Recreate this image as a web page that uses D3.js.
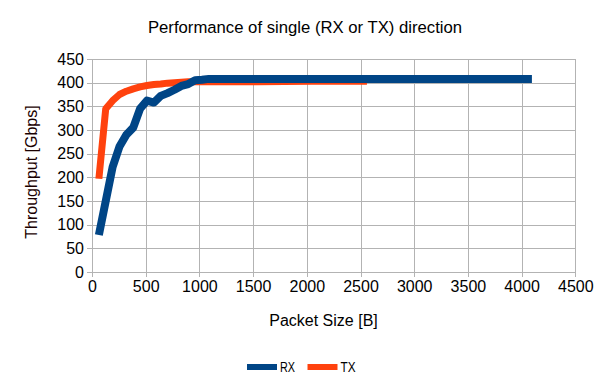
<!DOCTYPE html>
<html>
<head>
<meta charset="utf-8">
<script src="https://cdn.jsdelivr.net/npm/d3@7"></script>
<style>
  body { margin: 0; background: #fff; }
  svg { display: block; font-family: "Liberation Sans", Arial, sans-serif; }
</style>
</head>
<body>
<svg id="chart"></svg>
<script>
// packet sizes [B] and throughput [Gbps]
const rxSize = [64, 128, 192, 256, 320, 384, 448, 512, 576, 640, 704, 768, 832, 896, 960, 1024, 1088, 1536, 2048, 2560, 3072, 3584, 4096];
const rxGbps = [78, 150, 222, 265, 290, 305, 345, 362, 358, 372, 378, 385, 393, 397, 405, 406, 408, 408, 408, 408, 408, 408, 408];
const txSize = [64, 128, 192, 256, 320, 384, 448, 512, 576, 640, 704, 768, 832, 896, 960, 1024, 1088, 1536, 2048, 2560];
const txGbps = [197, 345, 362, 375, 382, 387, 391, 394, 396, 397, 399, 400, 401, 402, 402, 402, 402, 402, 403, 403];
const xTicks = d3.range(0, 4501, 500);
const yTicks = d3.range(0, 451, 50);

const width = 605;
const height = 378;
const margin = ({top: 59, right: 30, bottom: 106, left: 92});

const series = [
    {name: "RX", color: "#004586", width: 8, data: rxSize.map((s, i) => [s, rxGbps[i]])},
    {name: "TX", color: "#ff420e", width: 7, data: txSize.map((s, i) => [s, txGbps[i]])}
];

const x = d3.scaleLinear()
    .domain([0, 4500])
    .range([margin.left, width - margin.right + 0.3]);
const y = d3.scaleLinear()
    .domain([0, 450])
    .range([height - margin.bottom, margin.top]);

const svg = d3.select("#chart")
    .attr("width", width)
    .attr("height", height)
    .attr("viewBox", [0, 0, width, height]);

// grid
const grid = g => g
    .attr("stroke", "#b3b3b3")
    .attr("stroke-width", 1)
    .call(g => g.append("g")
        .selectAll("line")
        .data(xTicks)
        .join("line")
        .attr("x1", d => Math.round(x(d)) + 0.5)
        .attr("x2", d => Math.round(x(d)) + 0.5)
        .attr("y1", y(450))
        .attr("y2", y(0) + 5))
    .call(g => g.append("g")
        .selectAll("line")
        .data(yTicks)
        .join("line")
        .attr("y1", d => Math.round(y(d)) + 0.5)
        .attr("y2", d => Math.round(y(d)) + 0.5)
        .attr("x1", x(0) - 5)
        .attr("x2", x(4500)));

svg.append("g").call(grid);

const xAxis = g => g
    .attr("transform", `translate(0,${y(0)})`)
    .call(d3.axisBottom(x).tickValues(xTicks).tickFormat(d3.format("d")).tickSize(0).tickPadding(9))
    .call(g => g.select(".domain").remove())
    .call(g => g.selectAll("text").attr("font-size", 16).attr("fill", "#000").attr("font-family", null));

const yAxis = g => g
    .attr("transform", `translate(${x(0)},0)`)
    .call(d3.axisLeft(y).tickValues(yTicks).tickFormat(d3.format("d")).tickSize(0).tickPadding(8))
    .call(g => g.select(".domain").remove())
    .call(g => g.selectAll("text").attr("font-size", 16).attr("fill", "#000").attr("font-family", null));

svg.append("g").call(xAxis);
svg.append("g").call(yAxis);

// lines
const line = d3.line()
    .x(d => x(d[0]))
    .y(d => y(d[1]));

svg.append("g")
    .attr("fill", "none")
    .attr("stroke-linejoin", "round")
    .selectAll("path")
    .data(series.slice().reverse())
    .join("path")
    .attr("stroke", d => d.color)
    .attr("stroke-width", d => d.width)
    .attr("d", d => line(d.data));

// titles
svg.append("text")
    .attr("x", 305)
    .attr("y", 33)
    .attr("text-anchor", "middle")
    .attr("font-size", 16.7)
    .text("Performance of single (RX or TX) direction");

svg.append("text")
    .attr("x", 323.5)
    .attr("y", 326)
    .attr("text-anchor", "middle")
    .attr("font-size", 16)
    .text("Packet Size [B]");

svg.append("text")
    .attr("transform", "translate(37,172) rotate(-90)")
    .attr("text-anchor", "middle")
    .attr("font-size", 16)
    .attr("fill", "#1a0000")
    .text("Throughput [Gbps]");

// legend
const legend = svg.append("g")
    .selectAll("g")
    .data(series)
    .join("g")
    .attr("transform", (d, i) => `translate(${247 + i * 60.5},367)`);

legend.append("line")
    .attr("x1", 0)
    .attr("x2", 30)
    .attr("stroke", d => d.color)
    .attr("stroke-width", 6);

legend.append("text")
    .attr("x", 33)
    .attr("y", 5)
    .attr("font-size", 14)
    .attr("textLength", 15)
    .attr("lengthAdjust", "spacingAndGlyphs")
    .text(d => d.name);
</script>
</body>
</html>
